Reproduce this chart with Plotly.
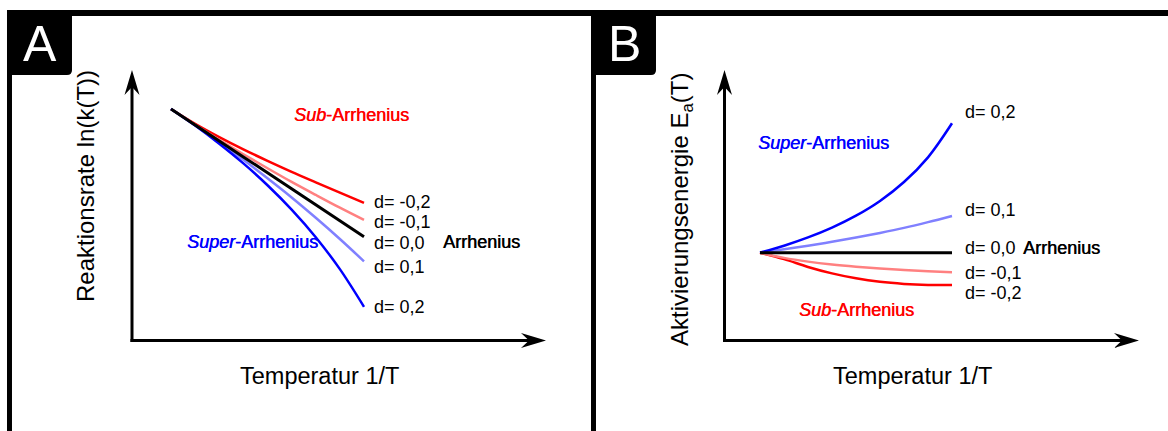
import plotly.graph_objects as go

W, H = 1168, 431

# ---------------- data ----------------
t_vals = [0, 0.125, 0.25, 0.375, 0.5, 0.625, 0.75, 0.875, 1.0]   # normalised 1/T
d_labels = ["d= -0,2", "d= -0,1", "d= 0,0", "d= 0,1", "d= 0,2"]
colors = ["#ff0000", "#ff8080", "#000000", "#8080ff", "#0000ff"]

# Panel A: ln(k(T))
lnk_dm02 = [0, -0.116, -0.220, -0.316, -0.406, -0.492, -0.574, -0.655, -0.735]
lnk_dm01 = [0, -0.123, -0.241, -0.354, -0.464, -0.571, -0.673, -0.773, -0.869]
lnk_d00 = [0, -0.125, -0.250, -0.375, -0.500, -0.625, -0.750, -0.875, -1.000]
lnk_dp01 = [0, -0.127, -0.260, -0.398, -0.543, -0.693, -0.852, -1.018, -1.193]
lnk_dp02 = [0, -0.130, -0.272, -0.426, -0.597, -0.788, -1.004, -1.254, -1.549]

# Panel B: Ea(T)
ea_dm02 = [0, -0.050, -0.110, -0.160, -0.198, -0.225, -0.241, -0.249, -0.250]
ea_dm01 = [0, -0.040, -0.069, -0.091, -0.108, -0.122, -0.133, -0.143, -0.151]
ea_d00 = [0, 0, 0, 0, 0, 0, 0, 0, 0]
ea_dp01 = [0, 0.026, 0.054, 0.084, 0.117, 0.153, 0.192, 0.236, 0.284]
ea_dp02 = [0, 0.054, 0.118, 0.194, 0.286, 0.400, 0.546, 0.737, 1.000]

lnk_series = [lnk_dm02, lnk_dm01, lnk_d00, lnk_dp01, lnk_dp02]
ea_series = [ea_dm02, ea_dm01, ea_d00, ea_dp01, ea_dp02]

# ---------------- layout helpers ----------------
FONT = "Liberation Sans, Arial, sans-serif"


def fx(x):
    return x / W


def fy(y):
    return 1 - y / H


def path(points, close=True):
    s = "M " + " L ".join(f"{fx(x):.5f},{fy(y):.5f}" for x, y in points)
    return s + (" Z" if close else "")


def rounded_box(x0, y0, x1, y1, r):
    return (
        f"M {fx(x0):.5f},{fy(y0 + r):.5f} "
        f"Q {fx(x0):.5f},{fy(y0):.5f} {fx(x0 + r):.5f},{fy(y0):.5f} "
        f"L {fx(x1 - r):.5f},{fy(y0):.5f} "
        f"Q {fx(x1):.5f},{fy(y0):.5f} {fx(x1):.5f},{fy(y0 + r):.5f} "
        f"L {fx(x1):.5f},{fy(y1 - r):.5f} "
        f"Q {fx(x1):.5f},{fy(y1):.5f} {fx(x1 - r):.5f},{fy(y1):.5f} "
        f"L {fx(x0 + r):.5f},{fy(y1):.5f} "
        f"Q {fx(x0):.5f},{fy(y1):.5f} {fx(x0):.5f},{fy(y1 - r):.5f} Z"
    )


# panel geometry (pixels)
A_org = (132, 340.5)
A_xtip = 546
B_org = (724.5, 340.5)
B_xtip = 1139
Y_tip = 70

# data->pixel mapping for the two plots
A_x0px, A_x1px = 171, 364       # t = 0 and t = 1
A_y0px, A_unit = 109, 127.7     # ln k = 0 pixel and pixels per unit
B_x0px, B_x1px = 760, 952
B_y0px, B_unit = 252.7, 129.4

fig = go.Figure()

order = [0, 1, 3, 4, 2]
for i in order:
    fig.add_trace(go.Scatter(
        x=t_vals, y=lnk_series[i], mode="lines", line_shape="spline",
        line=dict(color=colors[i], width=3 if i == 2 else 2.5),
        xaxis="x", yaxis="y", showlegend=False, hoverinfo="skip"))
for i in order:
    fig.add_trace(go.Scatter(
        x=t_vals, y=ea_series[i], mode="lines", line_shape="spline",
        line=dict(color=colors[i], width=3 if i == 2 else 2.5),
        xaxis="x2", yaxis="y2", showlegend=False, hoverinfo="skip"))


def ax_range(p0, p1, origin, scale):
    return [(p0 - origin) / scale, (p1 - origin) / scale]


A_xs = A_x1px - A_x0px
B_xs = B_x1px - B_x0px
fig.update_layout(
    width=W, height=H, autosize=False,
    margin=dict(l=0, r=0, t=0, b=0, pad=0),
    paper_bgcolor="white", plot_bgcolor="rgba(0,0,0,0)",
    font=dict(family=FONT, color="black"),
    xaxis=dict(domain=[fx(A_org[0]), fx(A_xtip)],
               range=ax_range(A_org[0], A_xtip, A_x0px, A_xs),
               visible=False, fixedrange=True, anchor="y"),
    yaxis=dict(domain=[fy(A_org[1]), fy(Y_tip)],
               range=[(A_y0px - A_org[1]) / A_unit, (A_y0px - Y_tip) / A_unit],
               visible=False, fixedrange=True, anchor="x"),
    xaxis2=dict(domain=[fx(B_org[0]), fx(B_xtip)],
                range=ax_range(B_org[0], B_xtip, B_x0px, B_xs),
                visible=False, fixedrange=True, anchor="y2"),
    yaxis2=dict(domain=[fy(B_org[1]), fy(Y_tip)],
                range=[(B_y0px - B_org[1]) / B_unit, (B_y0px - Y_tip) / B_unit],
                visible=False, fixedrange=True, anchor="x2"),
)

shapes = []
blk = dict(color="black", width=0)
# frame
shapes.append(dict(type="path", xref="paper", yref="paper", fillcolor="black", line=blk,
                   path=path([(7, 10), (1168, 10), (1168, 16), (7, 16)])))
shapes.append(dict(type="path", xref="paper", yref="paper", fillcolor="black", line=blk,
                   path=path([(7, 14), (12, 14), (12, 431), (7, 431)])))
shapes.append(dict(type="path", xref="paper", yref="paper", fillcolor="black", line=blk,
                   path=path([(591, 14), (596, 14), (596, 431), (591, 431)])))
shapes.append(dict(type="path", xref="paper", yref="paper", fillcolor="black", line=blk,
                   path=rounded_box(7, 10, 72, 75, 5)))
shapes.append(dict(type="path", xref="paper", yref="paper", fillcolor="black", line=blk,
                   path=rounded_box(591, 10, 656, 75, 5)))

# axes with arrows
for (ox, oy), xt in [(A_org, A_xtip), (B_org, B_xtip)]:
    shapes.append(dict(type="line", xref="paper", yref="paper",
                       x0=fx(ox - 1.5), y0=fy(oy), x1=fx(xt - 16), y1=fy(oy),
                       line=dict(color="black", width=3)))
    shapes.append(dict(type="line", xref="paper", yref="paper",
                       x0=fx(ox), y0=fy(oy + 1.5), x1=fx(ox), y1=fy(Y_tip + 16),
                       line=dict(color="black", width=3)))
    shapes.append(dict(type="path", xref="paper", yref="paper", fillcolor="black", line=blk,
                       path=path([(xt, oy), (xt - 25, oy - 7.5), (xt - 17, oy),
                                  (xt - 25, oy + 7.5)])))
    shapes.append(dict(type="path", xref="paper", yref="paper", fillcolor="black", line=blk,
                       path=path([(ox, Y_tip), (ox - 7.5, Y_tip + 25), (ox, Y_tip + 17),
                                  (ox + 7.5, Y_tip + 25)])))
fig.update_layout(shapes=shapes)

ann = []


def text(x, y, s, size=18, color="black", xanchor="left", angle=0, heavy=False):
    f = dict(family=FONT, size=size, color=color)
    if heavy:
        f["shadow"] = f"0.5px 0 0 {color}"
    ann.append(dict(x=fx(x), y=fy(y), xref="paper", yref="paper", text=s,
                    showarrow=False, xanchor=xanchor, yanchor="middle",
                    textangle=angle, font=f))


# panel letters
text(40, 44, "A", size=50, color="white", xanchor="center")
text(624, 44, "B", size=50, color="white", xanchor="center")

# axis titles
text(85, 186, "Reaktionsrate ln(k(T))", size=24, xanchor="center", angle=-90)
text(319, 376, "Temperatur 1/T", size=23.5, xanchor="center")
text(681, 210, "Aktivierungsenergie E<sub>a</sub>(T)", size=24, xanchor="center", angle=-90)
text(912, 376, "Temperatur 1/T", size=23.5, xanchor="center")

# panel A labels
A_label_y = [202, 222, 243, 267, 307]
for s, yy in zip(d_labels, A_label_y):
    text(372, yy, s)
text(351, 115, "<i>Sub</i>-Arrhenius", color="#ff0000", xanchor="center", heavy=True)
text(252, 242, "<i>Super</i>-Arrhenius", color="#0000ff", xanchor="center", heavy=True)
text(441, 242, "Arrhenius", heavy=True)

# panel B labels
B_label_y = [293, 273, 248, 210, 112]
for s, yy in zip(d_labels, B_label_y):
    text(963, yy, s)
text(1021, 248, "Arrhenius", heavy=True)
text(823, 143, "<i>Super</i>-Arrhenius", color="#0000ff", xanchor="center", heavy=True)
text(856, 310, "<i>Sub</i>-Arrhenius", color="#ff0000", xanchor="center", heavy=True)

fig.update_layout(annotations=ann)

fig.write_html("out.html", config={"displayModeBar": False},
               post_script="document.body.style.margin='0';document.body.style.overflow='hidden';")
